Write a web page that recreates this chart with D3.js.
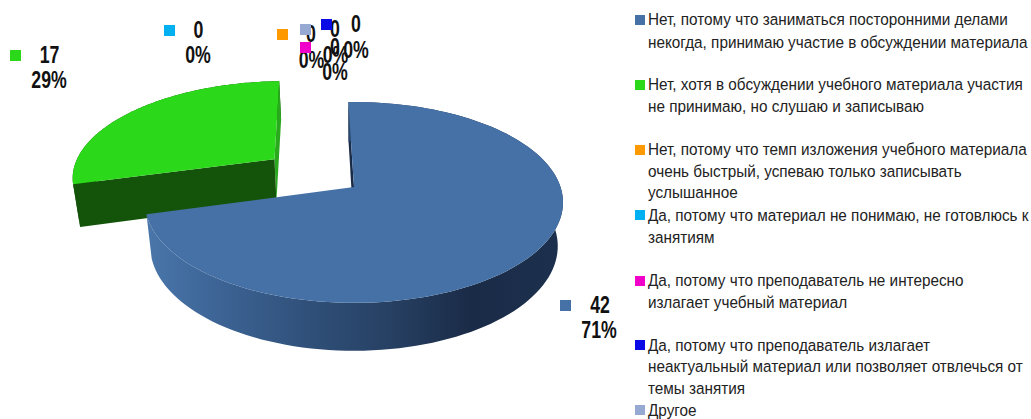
<!DOCTYPE html>
<html><head><meta charset="utf-8">
<script src="https://cdn.jsdelivr.net/npm/d3@7"></script>
<style>html,body{margin:0;padding:0;background:#fff;overflow:hidden}svg{display:block}</style>
</head><body><svg id="c" width="1031" height="419"></svg>
<script>
const categories = [
 "Нет, потому что заниматься посторонними делами некогда, принимаю участие в обсуждении материала",
 "Нет, хотя в обсуждении учебного материала участия не принимаю, но слушаю и записываю",
 "Нет, потому что темп изложения учебного материала очень быстрый, успеваю только записывать услышанное",
 "Да, потому что материал не понимаю, не готовлюсь к занятиям",
 "Да, потому что преподаватель не интересно излагает учебный материал",
 "Да, потому что преподаватель излагает неактуальный материал или позволяет отвлечься от темы занятия",
 "Другое"];
const values = [42,17,0,0,0,0,0];
const percents = ["71%","29%","0%","0%","0%","0%","0%"];
const colors = ["#4571A6","#2BD81A","#FF9900","#00B0F0","#F000C8","#0A0AE6","#95A9D2"];
const legendLines = [
 ["Нет, потому что заниматься посторонними делами","некогда, принимаю участие в обсуждении материала"],
 ["Нет, хотя в обсуждении учебного материала участия","не принимаю, но слушаю и записываю"],
 ["Нет, потому что темп изложения учебного материала","очень быстрый, успеваю только записывать","услышанное"],
 ["Да, потому что материал не понимаю, не готовлюсь к","занятиям"],
 ["Да, потому что преподаватель не интересно","излагает учебный материал"],
 ["Да, потому что преподаватель излагает","неактуальный материал или позволяет отвлечься от","темы занятия"],
 ["Другое"]];

// layout
const legendBase = [[25,47.5],[90,112],[155,177,198],[221,243],[286,308],[351,372,394],[416]];
const legendMarkY = [15,80,145,210,276,340,405];
const labelPos = [ // marker x,y ; value cx, baseline ; percent cx, baseline
 {mx:560,my:300,vx:600,vy:313,px:599,py:338},
 {mx:10,my:50,vx:49.5,vy:63,px:49,py:88},
 {mx:277,my:29,vx:311,vy:42,px:311.5,py:68},
 {mx:164,my:25,vx:198.5,vy:38,px:198,py:63},
 {mx:300,my:42,vx:335,vy:55,px:335,py:80},
 {mx:321,my:19,vx:335,vy:37,px:335.5,py:63},
 {mx:300,my:24,vx:356,vy:32,px:356,py:58}];

const svg = d3.select("#c");
const defs = svg.append("defs");
const grad = defs.append("linearGradient").attr("id","side").attr("gradientUnits","userSpaceOnUse")
  .attr("x1",147).attr("x2",562).attr("y1",0).attr("y2",0);
[[0,"#4a76aa"],[0.18,"#3c6394"],[0.4,"#2f4f78"],[0.6,"#263f61"],[0.78,"#1a2b47"],[1,"#1c304d"]]
  .forEach(s=>grad.append("stop").attr("offset",s[0]).attr("stop-color",s[1]));

// perspective model
const cx=354, cy=187, rx=206.5, ry=98, k=0.154, depth=43, shrink=0.975, explodeR=0.5;
function project(u,v,bottom){
  const w=1-k*v, s=bottom?shrink:1, d=bottom?depth:0;
  return [cx+rx*u*s/w, cy+(ry*v*s+d)/w];
}
const line=d3.line();
const a0=-1.8*Math.PI/180;
const arcs=d3.pie().sort(null).startAngle(a0).endAngle(a0+2*Math.PI)(values);

function slice(a,explode){
  const mid=(a.startAngle+a.endAngle)/2;
  const ox=explode*Math.sin(mid), oy=-explode*Math.cos(mid);
  const pt=(t,r,b)=>project(ox+r*Math.sin(t),oy-r*Math.cos(t),b);
  const ts=d3.range(0,121).map(i=>a.startAngle+(a.endAngle-a.startAngle)*i/120);
  return {
    top:[pt(0,0,false),...ts.map(t=>pt(t,1,false))],
    outer:[...ts.map(t=>pt(t,1,false)),...ts.slice().reverse().map(t=>pt(t,1,true))],
    wallStart:[pt(0,0,false),pt(a.startAngle,1,false),pt(a.startAngle,1,true),pt(0,0,true)],
    wallEnd:[pt(0,0,false),pt(a.endAngle,1,false),pt(a.endAngle,1,true),pt(0,0,true)]
  };
}
const g=svg.append("g");
const draw=(pts,fill)=>g.append("path").attr("d",line(pts)+"Z").attr("fill",fill);

const green=slice(arcs[1],explodeR), blue=slice(arcs[0],0);
draw(green.outer,"#13530a");
draw(green.wallEnd,"#2aa81e");
draw(green.wallStart,"#13530a");
draw(green.top,colors[1]);
draw(blue.wallStart,"#1a2b47");
draw(blue.outer,"url(#side)");
draw(blue.top,colors[0]);

// data labels
const lab=svg.append("g").attr("font-family","'Liberation Sans',sans-serif")
  .attr("font-weight","bold").attr("font-size",23).attr("text-anchor","middle").attr("fill","#111");
labelPos.forEach((p,i)=>{
  lab.append("text").attr("transform",`translate(${p.vx},${p.vy}) scale(0.77,1)`).text(values[i]);
  lab.append("text").attr("transform",`translate(${p.px},${p.py}) scale(0.77,1)`).text(percents[i]);
});
labelPos.forEach((p,i)=>{
  svg.append("rect").attr("x",p.mx).attr("y",p.my).attr("width",11).attr("height",11).attr("fill",colors[i]);
});

// legend
const leg=svg.append("g").attr("font-family","'Liberation Sans',sans-serif").attr("font-size",17).attr("fill","#222");
legendLines.forEach((ls,i)=>{
  leg.append("rect").attr("x",635).attr("y",legendMarkY[i]).attr("width",10).attr("height",10).attr("fill",colors[i]);
  ls.forEach((t,j)=>leg.append("text").attr("transform",`translate(648,${legendBase[i][j]}) scale(0.9,1)`).text(t));
});
</script></body></html>
